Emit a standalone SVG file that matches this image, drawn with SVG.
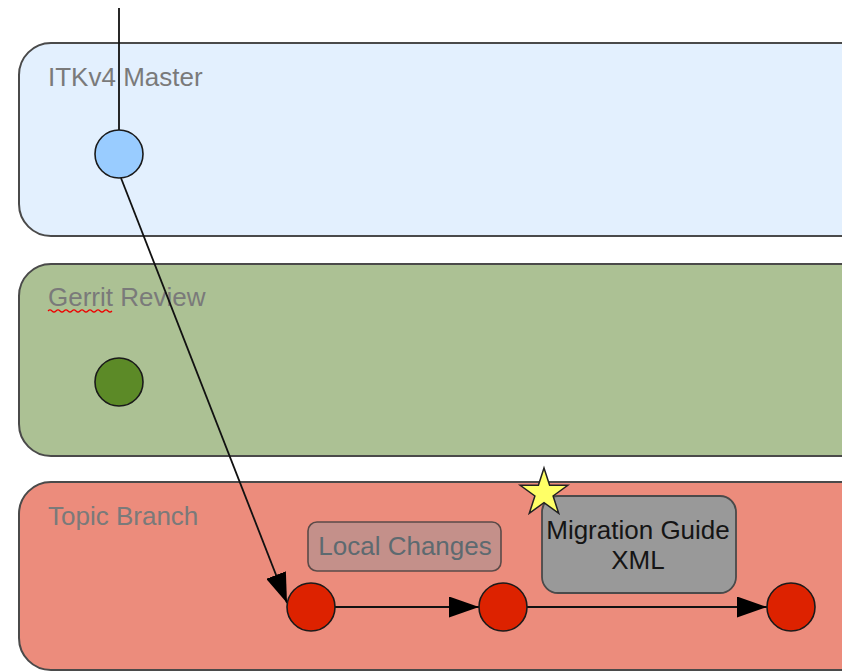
<svg xmlns="http://www.w3.org/2000/svg" width="842" height="672" viewBox="0 0 842 672">
<style>
.lane{stroke:#4a4a4a;stroke-width:2}
.lbl{font-family:"Liberation Sans",Arial,sans-serif;font-size:26px;fill:#7a7a7a}
.node{stroke:#1a1a1a;stroke-width:1.6}
.edge{stroke:#111;stroke-width:1.8;fill:none}
.box{font-family:"Liberation Sans",Arial,sans-serif;font-size:26px;text-anchor:middle}
</style>
<defs>
<marker id="ah" viewBox="0 0 30 21" refX="30" refY="10.5" markerWidth="30" markerHeight="21" markerUnits="userSpaceOnUse" orient="auto">
<path d="M0,0 L30,10.5 L0,21 Z" fill="#000"/>
</marker>
</defs>
<rect width="842" height="672" fill="#fff"/>
<g id="lane-master">
<rect class="lane" x="19" y="43" width="860" height="193" rx="32" fill="#e3f0fe"/>
<text class="lbl" x="48" y="86">ITKv4 Master</text>
</g>
<g id="lane-gerrit">
<rect class="lane" x="19" y="264" width="860" height="192" rx="32" fill="#acc194"/>
<text class="lbl" x="48" y="306">Gerrit Review</text>
<path d="M48,311 q2,-2 4,0 t4,0 t4,0 t4,0 t4,0 t4,0 t4,0 t4,0 t4,0 t4,0 t4,0 t4,0 t4,0 t4,0 t4,0 t4,0" fill="none" stroke="#e00" stroke-width="1.2"/>
</g>
<g id="lane-topic">
<rect class="lane" x="19" y="482" width="860" height="188" rx="32" fill="#ec8c7c"/>
<text class="lbl" x="48" y="525">Topic Branch</text>
</g>
<g id="connectors">
<line class="edge" x1="119" y1="8" x2="119" y2="130"/>
<line class="edge" x1="121" y1="178" x2="287" y2="603" marker-end="url(#ah)"/>
<line class="edge" x1="335" y1="607" x2="479" y2="607" marker-end="url(#ah)"/>
<line class="edge" x1="527" y1="607" x2="767" y2="607" marker-end="url(#ah)"/>
</g>
<g id="local-changes">
<rect x="308" y="522" width="193" height="49" rx="9" fill="#c4908a" stroke="#5a4a48" stroke-width="1.6"/>
<text class="box" x="405" y="555" fill="#5d6a70">Local Changes</text>
</g>
<g id="migration-guide">
<rect x="542" y="496" width="194" height="97" rx="16" fill="#999" stroke="#4a4a4a" stroke-width="1.8"/>
<text class="box" x="638" y="539" fill="#151515">Migration Guide</text>
<text class="box" x="638" y="569" fill="#151515">XML</text>
</g>
<g id="star">
<polygon points="544,468 549.6,485.3 567.8,485.3 553.1,496 558.7,513.3 544,502.6 529.3,513.3 534.9,496 520.2,485.3 538.4,485.3" fill="#ffff66" stroke="#222" stroke-width="1.5"/>
</g>
<g id="n-master"><circle class="node" cx="119" cy="154" r="24" fill="#99ccff"/></g>
<g id="n-gerrit"><circle class="node" cx="119" cy="382" r="24" fill="#5c8a27"/></g>
<g id="n-topic1"><circle class="node" cx="311" cy="607" r="24" fill="#dd2200"/></g>
<g id="n-topic2"><circle class="node" cx="503" cy="607" r="24" fill="#dd2200"/></g>
<g id="n-topic3"><circle class="node" cx="791" cy="607" r="24" fill="#dd2200"/></g>
</svg>
